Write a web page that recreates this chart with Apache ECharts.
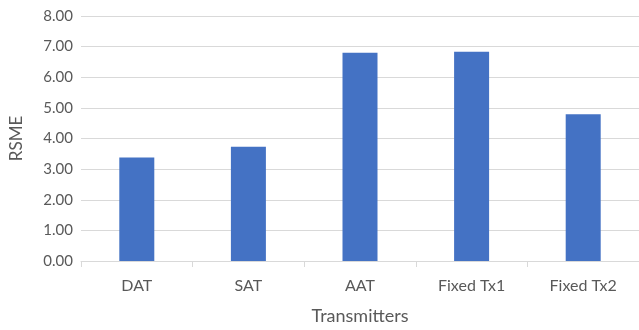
<!DOCTYPE html>
<html>
<head>
<meta charset="utf-8">
<script src="https://cdn.jsdelivr.net/npm/echarts@6/dist/echarts.min.js"></script>
<style>
  html, body { margin: 0; padding: 0; background: #fff; }
  #chart { width: 639px; height: 330px; }
</style>
</head>
<body>
<div id="chart"></div>
<script>
// Transmitter configurations and their RMSE values
const categories = ['DAT', 'SAT', 'AAT', 'Fixed Tx1', 'Fixed Tx2'];
const rsmeValues = [3.38, 3.73, 6.80, 6.83, 4.79];
const yTicks = { min: 0, max: 8, interval: 1 };

const textColor = '#595959';
const fontFamily = 'Lato, "Open Sans", sans-serif';

const chart = echarts.init(document.getElementById('chart'), null, { renderer: 'canvas' });
chart.setOption({
  animation: false,
  backgroundColor: '#ffffff',
  grid: { left: 74, top: 16, width: 566, height: 250.5, containLabel: false },
  xAxis: {
    type: 'category',
    data: categories,
    name: 'Transmitters',
    nameLocation: 'middle',
    nameGap: 46,
    nameTextStyle: { color: textColor, fontSize: 18, fontFamily: fontFamily },
    axisLine: { show: true, lineStyle: { color: '#D9D9D9', width: 1 } },
    axisTick: { show: true, alignWithLabel: false, length: 6, lineStyle: { color: '#D9D9D9' } },
    axisLabel: { color: textColor, fontSize: 16, fontFamily: fontFamily, margin: 17 }
  },
  yAxis: {
    type: 'value',
    min: yTicks.min,
    max: yTicks.max,
    interval: yTicks.interval,
    name: 'RSME',
    nameLocation: 'middle',
    nameGap: 56,
    nameTextStyle: { color: textColor, fontSize: 17, fontFamily: fontFamily },
    axisLine: { show: false },
    axisTick: { show: false },
    axisLabel: {
      color: textColor, fontSize: 15, fontFamily: fontFamily, margin: 8,
      formatter: v => v.toFixed(2)
    },
    splitLine: { lineStyle: { color: '#D9D9D9', width: 1 } }
  },
  series: [{
    type: 'bar',
    data: rsmeValues,
    barWidth: 35,
    itemStyle: { color: '#4472C4' }
  }]
});
</script>
</body>
</html>
